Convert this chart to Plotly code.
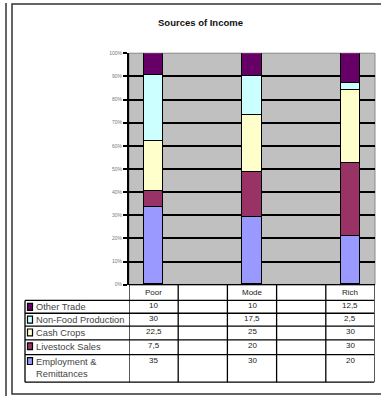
import plotly.graph_objects as go

W, H = 381, 399

title = "Sources of Income"
categories = ["Poor", "", "Mode", "", "Rich"]
series_names = ["Employment &<br>Remittances", "Livestock Sales", "Cash Crops",
                "Non-Food Production", "Other Trade"]
employment = [35, None, 30, None, 20]
livestock = [7.5, None, 20, None, 30]
cash_crops = [22.5, None, 25, None, 30]
non_food = [30, None, 17.5, None, 2.5]
other_trade = [10, None, 10, None, 12.5]
colors = ["#9999FF", "#993366", "#FFFFCC", "#CCFFFF", "#660066"]
tick_vals = list(range(0, 101, 10))
tick_text = [f"{v}%" for v in tick_vals]

series = [employment, livestock, cash_crops, non_food, other_trade]


def px(x):
    return x / W


def py(y):
    return 1 - y / H


# layout geometry (pixels)
PL, PR, PT, PB = 129, 375, 51, 286
row_edges = [302, 315, 328, 342, 357, 385]  # below header row
TL = 25

xs = list(range(len(categories)))
fig = go.Figure()
for name, vals, col in zip(series_names, series, colors):
    fig.add_trace(go.Bar(
        x=xs, y=vals, name=name, width=0.4,
        marker=dict(color=col, line=dict(color="black", width=1.5)),
        showlegend=False,
    ))

shapes = []
annotations = []

# outer frame
shapes.append(dict(type="line", xref="paper", yref="paper", x0=px(6), x1=px(6), y0=0, y1=1,
                   line=dict(color="#333", width=1.5)))
shapes.append(dict(type="rect", xref="paper", yref="paper", x0=px(12), x1=px(395), y0=py(397), y1=py(1),
                   line=dict(color="#333", width=1.5)))
# plot area border
shapes.append(dict(type="rect", xref="paper", yref="paper", x0=px(PL), x1=px(PR), y0=py(PB), y1=py(PT),
                   line=dict(color="#8a8a8a", width=1), layer="below"))

lc = dict(color="black", width=1.3)
# table: data columns vertical lines
for i in range(len(categories) + 1):
    xv = i - 0.5
    shapes.append(dict(type="line", xref="x", yref="paper", x0=xv, x1=xv,
                       y0=py(row_edges[-1]), y1=py(PB), line=lc))
# header row top / bottom
shapes.append(dict(type="line", xref="x", yref="paper", x0=-0.5, x1=len(categories) - 0.5,
                   y0=py(PB), y1=py(PB), line=lc))
# row lines spanning full table
for y in row_edges:
    shapes.append(dict(type="line", xref="paper", yref="paper", x0=px(TL), x1=px(PR - 1),
                       y0=py(y), y1=py(y), line=lc))
shapes.append(dict(type="line", xref="paper", yref="paper", x0=px(TL), x1=px(TL),
                   y0=py(row_edges[-1]), y1=py(row_edges[0]), line=lc))

tfont = dict(family="Liberation Sans, Arial", size=8, color="#222")
# header labels
for i, c in enumerate(categories):
    if c:
        annotations.append(dict(x=i, y=py((PB + row_edges[0]) / 2), xref="x", yref="paper",
                                text=c, showarrow=False, font=tfont, yanchor="middle"))


def fmt(v):
    s = f"{v:g}"
    return s.replace(".", ",")


# legend rows top to bottom: reverse of stacking order
order = list(range(len(series)))[::-1]
for r, si in enumerate(order):
    top, bot = row_edges[r], row_edges[r + 1]
    # key
    shapes.append(dict(type="rect", xref="paper", yref="paper",
                       x0=px(27.5), x1=px(32.5), y0=py(top + 3 + 7), y1=py(top + 3),
                       fillcolor=colors[si], line=dict(color="black", width=1.2)))
    annotations.append(dict(x=px(33.5), y=py(top), xref="paper", yref="paper",
                            text=series_names[si], showarrow=False, xanchor="left", yanchor="top",
                            align="left", font=dict(family="Liberation Sans, Arial", size=9.3, color="#444")))
    for i, v in enumerate(series[si]):
        if v is not None:
            annotations.append(dict(x=i, y=py(top - 1), xref="x", yref="paper",
                                    text=fmt(v), showarrow=False, yanchor="top", font=tfont))

annotations.append(dict(x=px(201), y=py(20), xref="paper", yref="paper", text="<b>" + title + "</b>",
                        showarrow=False, xanchor="center", yanchor="middle",
                        font=dict(family="Liberation Sans, Arial", size=9.5, color="#111")))

fig.update_layout(
    width=W, height=H, margin=dict(l=0, r=0, t=0, b=0),
    paper_bgcolor="white", plot_bgcolor="#C0C0C0",
    barmode="stack", barnorm="percent", bargap=0,
    xaxis=dict(domain=[px(PL), px(PR)], range=[-0.5, len(categories) - 0.5],
               showticklabels=False, showgrid=False, zeroline=False, ticks=""),
    yaxis=dict(domain=[py(PB), py(PT)], range=[0, 100], tickvals=tick_vals, ticktext=tick_text,
               showgrid=True, gridcolor="black", gridwidth=2, zeroline=False,
               showline=True, linecolor="black", linewidth=2, ticks="outside", ticklen=4,
               tickwidth=1.5, tickcolor="black",
               tickfont=dict(family="Liberation Sans, Arial", size=5, color="#777")),
    shapes=shapes, annotations=annotations,
)

fig.write_html("out.html")
